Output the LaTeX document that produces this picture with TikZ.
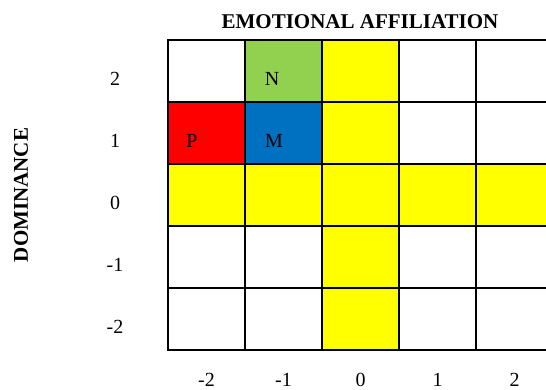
\documentclass[tikz,border=0pt]{standalone}
\usepackage{fontspec}
\setmainfont{Liberation Serif}
\definecolor{cgreen}{RGB}{146,208,80}
\definecolor{cred}{RGB}{255,0,0}
\definecolor{cblue}{RGB}{0,112,192}
\definecolor{cyellow}{RGB}{255,255,0}
\begin{document}
\begin{tikzpicture}[x=1pt,y=1pt,
  cell/.style={draw=black,line width=2.2pt,minimum width=77pt,minimum height=62pt,inner sep=0pt,outer sep=0pt},
  lab/.style={font=\fontsize{20}{24}\selectfont,inner sep=0pt},
  head/.style={font=\fontsize{21}{24}\selectfont\bfseries,inner sep=0pt}]
\useasboundingbox (0,0) rectangle (546,389);
\clip (0,0) rectangle (546,389);
% cells: column index, row index, colour
\foreach \i/\j/\c in {-2/2/white,-1/2/cgreen,0/2/cyellow,1/2/white,2/2/white,
  -2/1/cred,-1/1/cblue,0/1/cyellow,1/1/white,2/1/white,
  -2/0/cyellow,-1/0/cyellow,0/0/cyellow,1/0/cyellow,2/0/cyellow,
  -2/-1/white,-1/-1/white,0/-1/cyellow,1/-1/white,2/-1/white,
  -2/-2/white,-1/-2/white,0/-2/cyellow,1/-2/white,2/-2/white}
  \node[cell,fill=\c] (c\i\j) at ({360.5+77*\i},{194+62*\j}) {};
% letters
\node[lab] (N) at (272,310) {N};
\node[lab] (P) at (192,248) {P};
\node[lab] (M) at (274,248) {M};
% row labels
\foreach \j/\py in {2/79,1/141,0/203,-1/265,-2/327}
  \node[lab] (r\j) at (115,389-\py) {\j};
% column labels
\foreach \i in {-2,-1,0,1,2}
  \node[lab] (k\i) at ({360.5+77*\i},9) {\i};
% titles
\node[head] (title) at (360,367) {EMOTIONAL AFFILIATION};
\node[head,rotate=90] (dom) at (21,194) {DOMINANCE};
\end{tikzpicture}
\end{document}
